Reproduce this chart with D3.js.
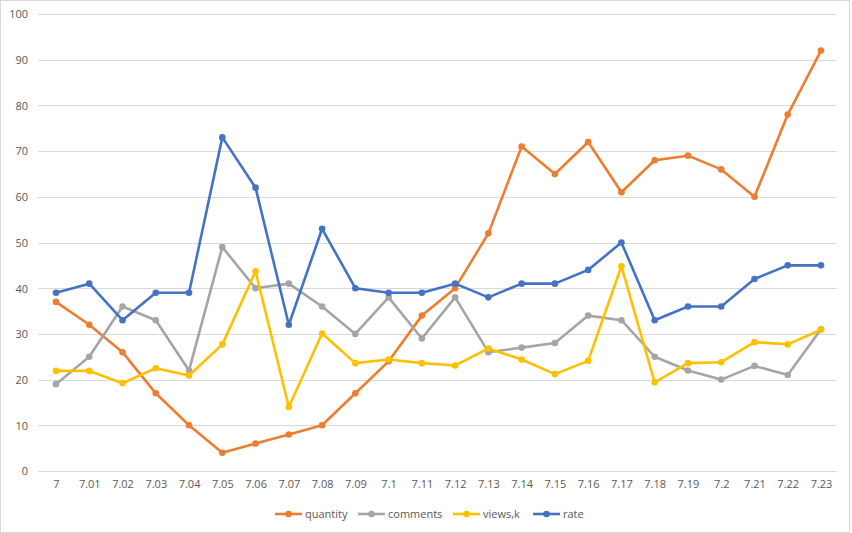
<!DOCTYPE html>
<html><head><meta charset="utf-8">
<script src="https://cdn.jsdelivr.net/npm/d3@7"></script>
<style>body{margin:0;background:#fff}svg{display:block}text{font-family:"Open Sans","Liberation Sans",sans-serif}</style>
</head><body><svg id="c" width="852" height="533"></svg>
<script>
const categories = ["7","7.01","7.02","7.03","7.04","7.05","7.06","7.07","7.08","7.09","7.1","7.11","7.12","7.13","7.14","7.15","7.16","7.17","7.18","7.19","7.2","7.21","7.22","7.23"];
const quantity = [37,32,26,17,10,4,6,8,10,17,24,34,40,52,71,65,72,61,68,69,66,60,78,92];
const comments = [19,25,36,33,22,49,40,41,36,30,38,29,38,26,27,28,34,33,25,22,20,23,21,31];
const views = [21.9,21.9,19.2,22.5,20.9,27.7,43.7,14,30.1,23.6,24.4,23.6,23.1,26.8,24.4,21.2,24.1,44.8,19.4,23.6,23.8,28.2,27.7,30.9];
const rate = [39,41,33,39,39,73,62,32,53,40,39,39,41,38,41,41,44,50,33,36,36,42,45,45];
const yTicks = [0,10,20,30,40,50,60,70,80,90,100];
const seriesNames = ["quantity","comments","views,k","rate"];
const seriesColors = ["#ED7D31","#A5A5A5","#FFC000","#4472C4"];
const seriesData = [quantity, comments, views, rate];

const svg = d3.select("#c");
svg.append("rect").attr("x",0.5).attr("y",0.5).attr("width",849).attr("height",532).attr("fill","#fff").attr("stroke","#D9D9D9");

const x = d3.scalePoint().domain(categories).range([56,821]);
const y = d3.scaleLinear().domain([0,100]).range([471,14]);

// gridlines
svg.append("g").selectAll("line").data(yTicks).join("line")
  .attr("x1",38).attr("x2",837)
  .attr("y1",d=>Math.round(y(d))+0.5).attr("y2",d=>Math.round(y(d))+0.5)
  .attr("stroke","#D9D9D9").attr("stroke-width",1);

// y labels
const yAxis = svg.append("g").attr("transform","translate(28,0)")
  .call(d3.axisLeft(y).tickValues(yTicks).tickSize(0).tickPadding(0));
yAxis.select(".domain").remove();
yAxis.selectAll("text").attr("fill","#595959").style("font-size","11px").attr("dy","0.35em");

// x labels
const xAxis = svg.append("g").attr("transform","translate(0,480)")
  .call(d3.axisBottom(x).tickSize(0).tickPadding(0));
xAxis.select(".domain").remove();
xAxis.selectAll("text").attr("fill","#595959").style("font-size","11px").attr("dy","0.71em");

const line = d3.line().x((d,i)=>x(categories[i])).y(d=>y(d));
seriesData.forEach((data,k)=>{
  const g = svg.append("g");
  g.append("path").datum(data).attr("d",line).attr("fill","none")
    .attr("stroke",seriesColors[k]).attr("stroke-width",2.6).attr("stroke-linejoin","round");
  g.selectAll("circle").data(data).join("circle")
    .attr("cx",(d,i)=>x(categories[i])).attr("cy",d=>y(d)).attr("r",3.3)
    .attr("fill",seriesColors[k]);
});

// legend
const legX = [275,358,453,533];
const leg = svg.append("g");
seriesNames.forEach((n,k)=>{
  const g = leg.append("g").attr("transform",`translate(${legX[k]},514)`);
  g.append("line").attr("x1",0).attr("x2",27).attr("stroke",seriesColors[k]).attr("stroke-width",2.6);
  g.append("circle").attr("cx",13.5).attr("r",3.3).attr("fill",seriesColors[k]);
  g.append("text").attr("x",30).attr("dy","0.35em").attr("fill","#595959").style("font-size","11px").text(n);
});
</script></body></html>
